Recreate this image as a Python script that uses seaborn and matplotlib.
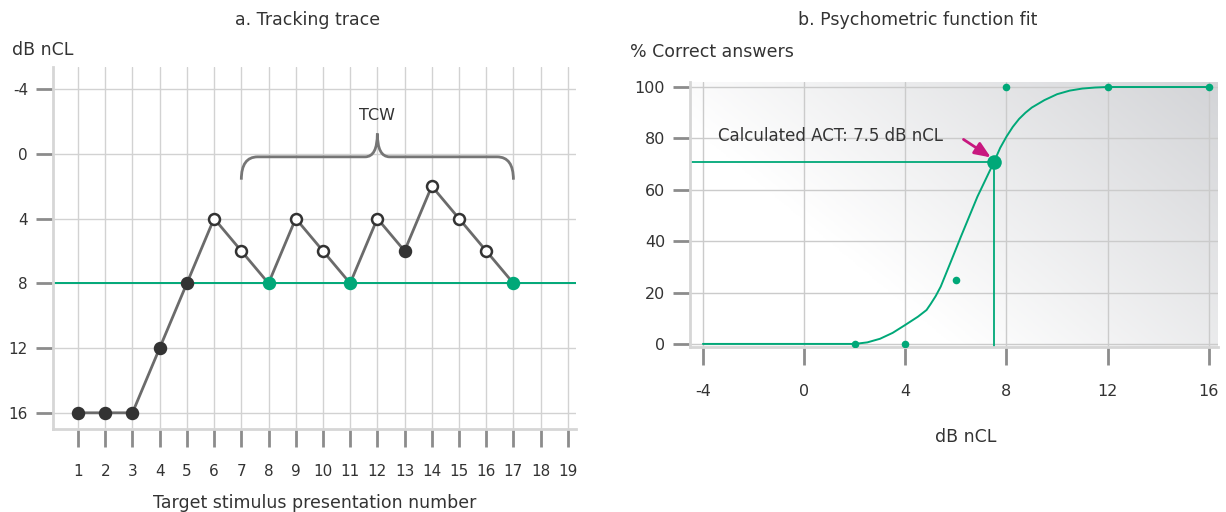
import matplotlib
matplotlib.use("Agg")
import matplotlib.pyplot as plt
from matplotlib.path import Path
from matplotlib.patches import PathPatch
from matplotlib.colors import LinearSegmentedColormap
import numpy as np
import pandas as pd
import seaborn as sns

# ---- a. tracking trace ----
trial = list(range(1, 18))
level = [16, 16, 16, 12, 8, 4, 6, 8, 4, 6, 8, 4, 6, 2, 4, 6, 8]
kind = ['filled'] * 5 + ['open', 'open', 'green', 'open', 'open', 'green',
                         'open', 'filled', 'open', 'open', 'open', 'green']
track_level = 8
tcw_start, tcw_end = 7, 17
trial_ticks = list(range(1, 20))
level_ticks = [-4, 0, 4, 8, 12, 16]

# ---- b. psychometric function fit ----
stim_db = [2, 4, 6, 8, 12, 16]
pct_correct = [0, 0, 25, 100, 100, 100]
# fitted curve
fit_db = [-4, 2, 2.5, 3, 3.5, 4, 4.5, 4.84, 5.0, 5.2, 5.4, 5.8, 6.2, 6.85, 7.5,
          7.75, 8, 8.25, 8.5, 8.75, 9, 9.5, 10, 10.5, 11, 11.5, 12, 16]
fit_pct = [0, 0, 0.6, 2.0, 4.3, 7.4, 10.6, 13.2, 15.5, 18.6, 22.3, 32, 41.8, 57.3, 70.7,
           76.3, 80.7, 84.5, 87.6, 90.0, 92.0, 94.9, 97.2, 98.6, 99.4, 99.8, 100, 100]
act_db, act_pct = 7.5, 70.7
db_ticks = [-4, 0, 4, 8, 12, 16]
pct_ticks = [0, 20, 40, 60, 80, 100]

GREEN = '#00a878'
DARK = '#333333'
LINE = '#6b6b6b'
GRID = '#d2d2d2'
SPINE = '#d6d6d6'
TICK = '#8c8c8c'

sns.set_theme(style="white")
plt.rcParams['font.family'] = ['DejaVu Sans']
plt.rcParams['axes.unicode_minus'] = False
plt.rcParams['text.color'] = DARK

fig = plt.figure(figsize=(12.26, 5.12), dpi=100)

# ---------------- left panel ----------------
ax1 = fig.add_axes([53 / 1226, 83 / 512, 523 / 1226, 362 / 512])
df = pd.DataFrame(dict(trial=trial, level=level, kind=kind))

ax1.axhline(track_level, color=GREEN, lw=1.4, zorder=2)
sns.lineplot(data=df, x='trial', y='level', color=LINE, lw=2, ax=ax1,
             estimator=None, sort=False, zorder=3)
styles = {
    'filled': dict(color=DARK, edgecolor=DARK),
    'open': dict(color='white', edgecolor=DARK),
    'green': dict(color=GREEN, edgecolor=GREEN),
}
for k, st in styles.items():
    sub = df[df['kind'] == k]
    sns.scatterplot(data=sub, x='trial', y='level', s=62, linewidth=1.8,
                    ax=ax1, zorder=4, legend=False, **st)

# TCW brace
yb, ye, yp = 0.19, 1.6, -1.25
mid = (tcw_start + tcw_end) / 2
verts = [(tcw_start, ye), (tcw_start, yb), (tcw_start + 0.6, yb),
         (mid - 0.45, yb), (mid, yb), (mid, yp),
         (mid, yb), (mid + 0.45, yb),
         (tcw_end - 0.6, yb), (tcw_end, yb), (tcw_end, ye)]
codes = [Path.MOVETO, Path.CURVE3, Path.CURVE3,
         Path.LINETO, Path.CURVE3, Path.CURVE3,
         Path.CURVE3, Path.CURVE3,
         Path.LINETO, Path.CURVE3, Path.CURVE3]
ax1.add_patch(PathPatch(Path(verts, codes), fc='none', ec='#767676', lw=2, zorder=3))
ax1.text(mid, -2.35, 'TCW', ha='center', va='center', fontsize=11.5, color=DARK)

ax1.set_xlim(0.08, 19.3)
ax1.set_ylim(17.0, -5.36)
ax1.set_xticks(trial_ticks)
ax1.set_yticks(level_ticks)
ax1.grid(True, color=GRID, lw=1)
ax1.set_axisbelow(True)
for s in ['top', 'right']:
    ax1.spines[s].set_visible(False)
for s in ['left', 'bottom']:
    ax1.spines[s].set_color(SPINE)
    ax1.spines[s].set_linewidth(2)
ax1.tick_params(axis='y', length=12, width=2, color=TICK, pad=6,
                labelsize=11, labelcolor=DARK, left=True)
ax1.tick_params(axis='x', length=13, width=2, color=TICK, pad=12,
                labelsize=11, labelcolor=DARK, bottom=True)
ax1.set_xlabel('Target stimulus presentation number', fontsize=12.5,
               color=DARK, labelpad=11)
ax1.set_ylabel('')

fig.text(308 / 1226, 1 - 20 / 512, 'a. Tracking trace', ha='center',
         va='center', fontsize=12.5)
fig.text(12 / 1226, 1 - 50 / 512, 'dB nCL', ha='left', va='center',
         fontsize=12.5)

# ---------------- right panel ----------------
ax2 = fig.add_axes([690 / 1226, 165 / 512, 528 / 1226, 265 / 512])
xlim = (-4.51, 16.36)
ylim = (-1.2, 101.95)

u, v = np.meshgrid(np.linspace(0, 1, 300), np.linspace(0, 1, 200))
t = np.clip((u + 0.6 * v - 0.5) / 1.1, 0, 1)
cmap = LinearSegmentedColormap.from_list('bg', ['#ffffff', '#d3d4d7'])
ax2.imshow(t, cmap=cmap, vmin=0, vmax=1, origin='lower', aspect='auto',
           extent=(xlim[0], xlim[1], ylim[0], ylim[1]), zorder=0)

ax2.plot([xlim[0], act_db], [act_pct, act_pct], color=GREEN, lw=1.3, zorder=2)
ax2.plot([act_db, act_db], [ylim[0], act_pct], color=GREEN, lw=1.3, zorder=2)
sns.lineplot(x=fit_db, y=fit_pct, color=GREEN, lw=1.4, ax=ax2,
             estimator=None, sort=False, zorder=3)
sns.scatterplot(x=stim_db, y=pct_correct, color=GREEN, s=30, linewidth=0,
                ax=ax2, zorder=4)
sns.scatterplot(x=[act_db], y=[act_pct], color=GREEN, s=110, linewidth=0,
                ax=ax2, zorder=5)

ax2.annotate('', xy=(7.38, 72.6), xytext=(6.3, 79.6),
             arrowprops=dict(arrowstyle='-|>,head_length=0.6,head_width=0.25',
                             color='#c8187f', lw=2,
                             mutation_scale=16, shrinkA=0, shrinkB=0),
             zorder=6)
ax2.text(-3.4, 81, 'Calculated ACT: 7.5 dB nCL', ha='left', va='center',
         fontsize=12, color=DARK, zorder=6)

ax2.set_xlim(*xlim)
ax2.set_ylim(*ylim)
ax2.set_xticks(db_ticks)
ax2.set_yticks(pct_ticks)
ax2.grid(True, color='#cbcbcb', lw=1)
ax2.set_axisbelow(True)
for s in ['top', 'right']:
    ax2.spines[s].set_visible(False)
for s in ['left', 'bottom']:
    ax2.spines[s].set_color(SPINE)
    ax2.spines[s].set_linewidth(2)
ax2.tick_params(axis='y', length=12, width=2, color=TICK, pad=6,
                labelsize=11.5, labelcolor=DARK, left=True)
ax2.tick_params(axis='x', length=13, width=2, color=TICK, pad=14,
                labelsize=11.5, labelcolor=DARK, bottom=True)
ax2.set_xlabel('')
ax2.set_ylabel('')

fig.text(918 / 1226, 1 - 20 / 512, 'b. Psychometric function fit', ha='center',
         va='center', fontsize=12.5)
fig.text(630 / 1226, 1 - 52 / 512, '% Correct answers', ha='left',
         va='center', fontsize=12.5)
fig.text(966 / 1226, 1 - 437 / 512, 'dB nCL', ha='center', va='center',
         fontsize=12.5)

fig.savefig('out.png', dpi=100)
